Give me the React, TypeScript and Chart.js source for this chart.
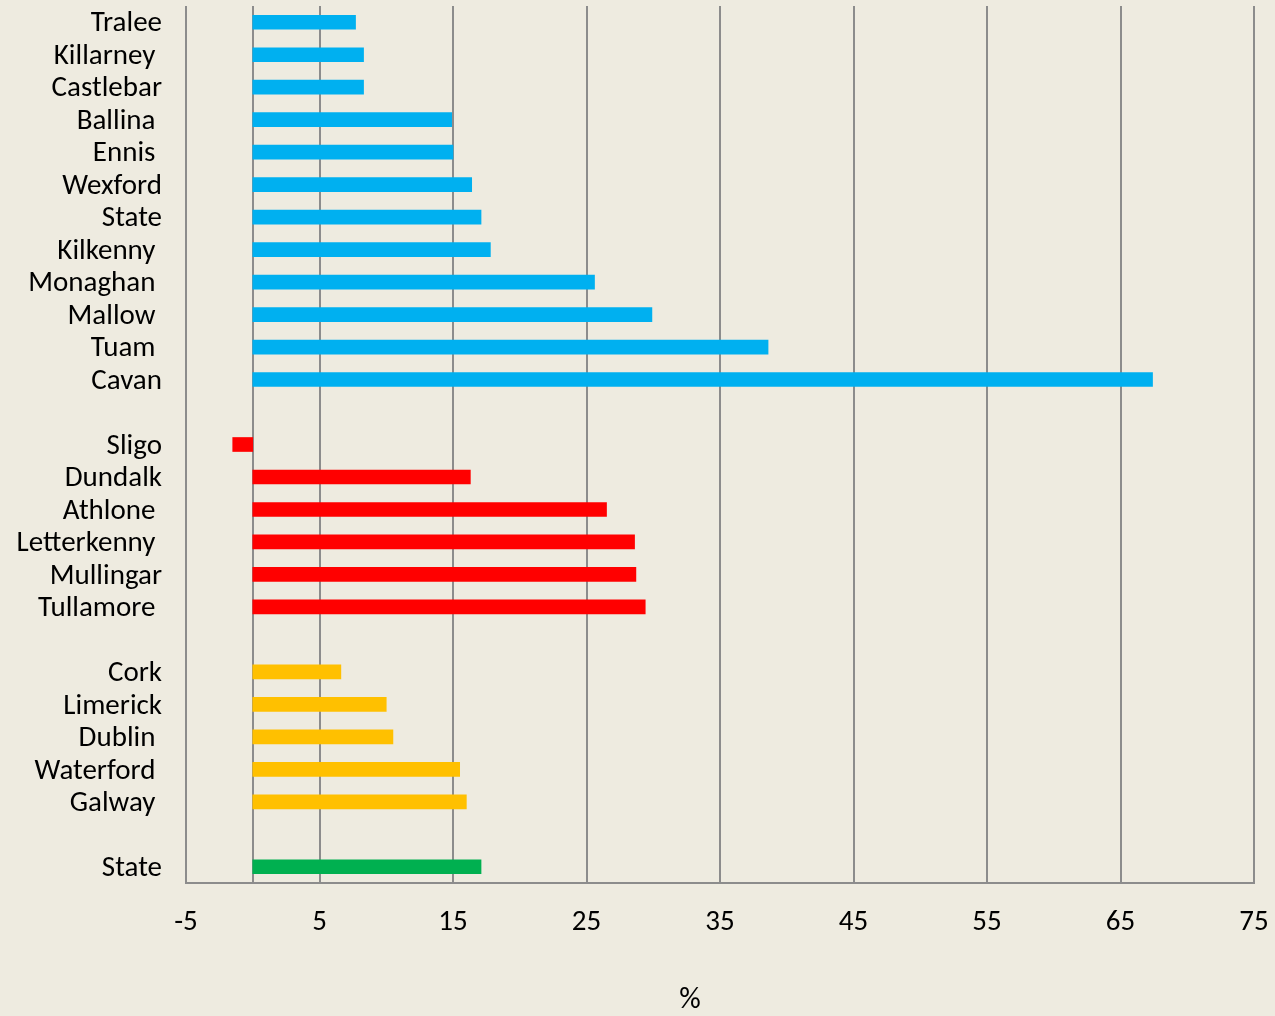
import React, { useEffect, useRef } from 'react';
import { Chart, registerables } from 'chart.js';

Chart.register(...registerables);

// Town names (trailing spaces reproduce the original label alignment)
const categories = [
  'Tralee', 'Killarney ', 'Castlebar', 'Ballina ', 'Ennis ', 'Wexford', 'State', 'Kilkenny ',
  'Monaghan ', 'Mallow ', 'Tuam ', 'Cavan', '',
  'Sligo', 'Dundalk', 'Athlone ', 'Letterkenny ', 'Mullingar', 'Tullamore ', '',
  'Cork', 'Limerick', 'Dublin ', 'Waterford ', 'Galway ', '',
  'State',
];

// Percentage change values
const values: (number | null)[] = [
  7.7, 8.3, 8.3, 14.9, 15.0, 16.4, 17.1, 17.8,
  25.6, 29.9, 38.6, 67.4, null,
  -1.5, 16.3, 26.5, 28.6, 28.7, 29.4, null,
  6.6, 10.0, 10.5, 15.5, 16.0, null,
  17.1,
];

// Group of each row: 0 = blue, 1 = red, 2 = orange, 3 = green
const groups = [
  0, 0, 0, 0, 0, 0, 0, 0,
  0, 0, 0, 0, 0,
  1, 1, 1, 1, 1, 1, 1,
  2, 2, 2, 2, 2, 2,
  3,
];

const groupColors = ['#00B0F0', '#FF0000', '#FFC000', '#00B050'];

const xTickMin = -5;
const xTickMax = 75;
const xTickStep = 10;
const xTitle = '%';

const BG = '#EEEBE0';
const GRID = '#8C8C8C';
const FONT = 'Calibri, Carlito, Lato, sans-serif';
const FSIZE = 29;

export default function App() {
  const ref = useRef<HTMLCanvasElement | null>(null);

  useEffect(() => {
    if (!ref.current) return;
    const bgPlugin = {
      id: 'bg',
      beforeDraw(chart: any) {
        const { ctx, width, height } = chart;
        ctx.save();
        ctx.fillStyle = BG;
        ctx.fillRect(0, 0, width, height);
        ctx.restore();
      },
    };
    const zeroLine = {
      id: 'zeroLine',
      beforeDatasetsDraw(chart: any) {
        const { ctx, chartArea, scales } = chart;
        const x = Math.round(scales.x.getPixelForValue(0));
        ctx.save();
        ctx.strokeStyle = GRID;
        ctx.lineWidth = 2;
        ctx.beginPath();
        ctx.moveTo(x, chartArea.top);
        ctx.lineTo(x, chartArea.bottom);
        ctx.stroke();
        ctx.restore();
      },
    };
    const axisTitle = {
      id: 'axisTitle',
      afterDraw(chart: any) {
        const { ctx, chartArea, height } = chart;
        ctx.save();
        ctx.fillStyle = '#000';
        ctx.font = `30px ${FONT}`;
        ctx.textAlign = 'center';
        ctx.textBaseline = 'middle';
        ctx.fillText(xTitle, (chartArea.left + chartArea.right) / 2 - 30, height - 16);
        ctx.restore();
      },
    };
    const chart = new Chart(ref.current, {
      type: 'bar',
      data: {
        labels: categories,
        datasets: [
          {
            data: values,
            backgroundColor: groups.map((g) => groupColors[g]),
            barThickness: 14,
          },
        ],
      },
      options: {
        indexAxis: 'y',
        responsive: false,
        animation: false,
        layout: { padding: { top: 6, right: 21, left: 0, bottom: 0 } },
        plugins: {
          legend: { display: false },
          tooltip: { enabled: false },
        },
        scales: {
          x: {
            type: 'linear',
            min: xTickMin,
            max: xTickMax,
            ticks: {
              stepSize: xTickStep,
              color: '#000',
              font: { family: FONT, size: FSIZE },
              padding: 22,
            },
            grid: { color: GRID, lineWidth: 2, drawTicks: false },
            border: { color: GRID, width: 2 },
            afterFit(scale: any) {
              scale.height = 133;
              scale.paddingLeft = 0;
              scale.paddingRight = 0;
            },
          },
          y: {
            type: 'category',
            grid: { display: false, drawTicks: false },
            border: { display: false },
            ticks: {
              autoSkip: false,
              color: '#000',
              font: { family: FONT, size: FSIZE },
              padding: 24,
              labelOffset: 2,
            },
            afterFit(scale: any) {
              scale.width = 186;
              scale.paddingTop = 0;
              scale.paddingBottom = 0;
            },
          },
        },
      },
      plugins: [bgPlugin, zeroLine, axisTitle],
    });
    return () => chart.destroy();
  }, []);

  return (
    <div style={{ position: 'fixed', left: 0, top: 0, width: 1275, height: 1016, background: BG }}>
      <canvas ref={ref} width={1275} height={1016} style={{ display: 'block' }} />
    </div>
  );
}
